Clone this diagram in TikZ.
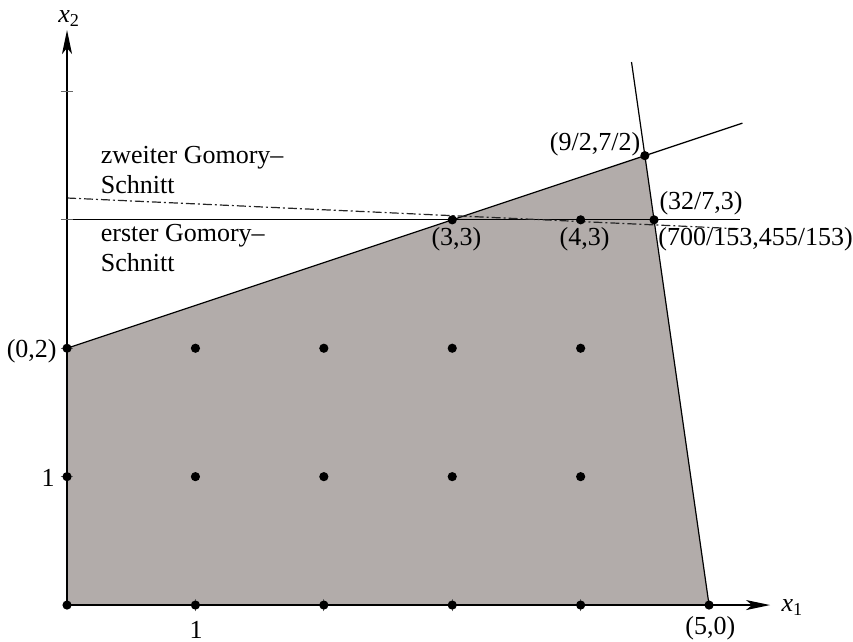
\documentclass[tikz,border=0pt]{standalone}
\usepackage{fontspec}
\setmainfont{Liberation Serif}
\usepackage{tikz,xcolor}
\usetikzlibrary{arrows.meta,calc}
\definecolor{polygray}{RGB}{178,172,170}
\tikzset{
  % lattice points and corner points
  pt/.style={circle,fill=black,inner sep=0pt,minimum size=4.6pt},
  % coordinate labels
  lbl/.style={inner sep=0pt,font=\fontsize{13}{15}\selectfont},
  % the two cutting planes
  cut/.style={black!85,line width=0.6pt,dash pattern=on 4.5pt off 1.5pt on 1pt off 1.5pt},
  axis/.style={black,line width=0.6pt,-{Stealth[length=12pt,width=5pt,inset=3pt]}},
}
\begin{document}
\begin{tikzpicture}[x=2.2565cm,y=2.2565cm]
\useasboundingbox (-0.522,-0.280) rectangle (6.121,4.712);
% corners of the polygon
\coordinate (o) at (0,0);
\coordinate (a) at (0,2);
\coordinate (b) at (4.5,3.5);
\coordinate (c) at (5,0);
\coordinate (d) at (32/7,3);
\coordinate (bend) at (5.26,3.753);
\coordinate (cend) at (4.396,4.229);
\coordinate (hstart) at (0,3);
\coordinate (hend) at (5.24,3);
\coordinate (gstart) at (0,3.17);
\coordinate (gend) at (5.24,2.93);
\coordinate (xend) at (5.475,0);
\coordinate (yend) at (0,4.478);
 \fill[polygray] (o) -- (a) -- (b) -- (c) -- cycle;
% constraints
 \draw[black,line width=0.6pt] (a) -- (bend);
 \draw[black,line width=0.6pt] (c) -- (cend);
 \draw[black,line width=0.6pt] (hstart) -- (hend);
 \draw[cut] (gstart) -- (gend);
% axes
 \draw[axis] (o) -- (xend);
 \draw[axis] (o) -- (yend);
 \foreach \i in {1,...,4} {
   \draw[black!60,line width=0.6pt] (\i,-0.05) -- (\i,0.05);
   \draw[black!60,line width=0.6pt] (-0.05,\i) -- (0.05,\i);
 }
% lattice points
 \foreach \i in {0,...,5} \node[pt] (p\i0) at (\i,0) {};
 \foreach \j in {1,2} {
   \foreach \i in {0,...,4} \node[pt] (p\i\j) at (\i,\j) {};
 }
 \node[pt] (p33) at (3,3) {};
 \node[pt] (p43) at (4,3) {};
 \node[pt] (pb) at (b) {};
 \node[pt] (pd) at (d) {};
% labels
 \node[lbl] (l1x) at (1.005,-0.19) {1};
 \node[lbl] (l1y) at (-0.148,0.99) {1};
 \node[lbl,anchor=east] (la) at (-0.078,1.98) {(0,2)};
 \node[lbl] (l33) at (3.033,2.85) {(3,3)};
 \node[lbl] (l43) at (4.03,2.85) {(4,3)};
 \node[lbl] (lb) at (4.112,3.59) {(9/2,7/2)};
 \node[lbl] (ld) at (4.938,3.131) {(32/7,3)};
 \node[lbl,anchor=west] (le) at (4.603,2.85) {(700/153,455/153)};
 \node[lbl] (lc) at (5.01,-0.183) {(5,0)};
 \node[lbl,anchor=base west] (lx1) at (5.561,-0.052) {\textit{x}\textsubscript{1}};
 \node[lbl,anchor=base west] (lx2) at (-0.07,4.535) {\textit{x}\textsubscript{2}};
 \node[lbl,anchor=base west] (lzw) at (0.26,3.440) {zweiter Gomory--};
 \node[lbl,anchor=base west] (lzs) at (0.26,3.206) {Schnitt};
 \node[lbl,anchor=base west] (lew) at (0.26,2.829) {erster Gomory--};
 \node[lbl,anchor=base west] (les) at (0.26,2.596) {Schnitt};
\end{tikzpicture}
\end{document}
